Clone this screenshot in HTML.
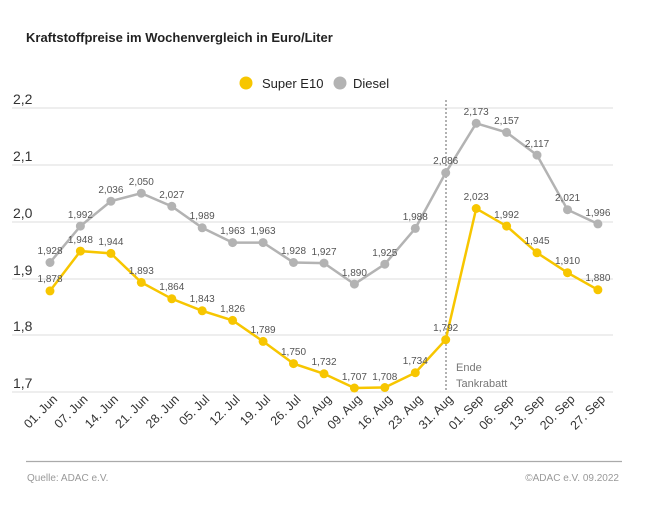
<!DOCTYPE html><html><head><meta charset="utf-8"><style>body{margin:0;background:#fff}svg{display:block;font-family:"Liberation Sans",sans-serif}</style></head><body>
<svg width="650" height="515" viewBox="0 0 650 515">
<text x="26" y="42" font-size="13" font-weight="bold" fill="#222">Kraftstoffpreise im Wochenvergleich in Euro/Liter</text>
<circle cx="246" cy="83" r="6.5" fill="#f7c600"/><text x="262" y="88" font-size="13" fill="#222">Super E10</text>
<circle cx="340" cy="83" r="6.5" fill="#b3b3b3"/><text x="353" y="88" font-size="13" fill="#222">Diesel</text>
<g stroke="#ddd" stroke-width="1">
<line x1="12" x2="613" y1="108" y2="108"/><line x1="12" x2="613" y1="165" y2="165"/><line x1="12" x2="613" y1="222" y2="222"/><line x1="12" x2="613" y1="279" y2="279"/><line x1="12" x2="613" y1="335" y2="335"/><line x1="12" x2="613" y1="392" y2="392"/></g>
<g font-size="14" fill="#333"><text x="13" y="104">2,2</text><text x="13" y="161">2,1</text><text x="13" y="218">2,0</text><text x="13" y="275">1,9</text><text x="13" y="331">1,8</text><text x="13" y="388">1,7</text></g>
<line x1="446" x2="446" y1="100" y2="392" stroke="#666" stroke-dasharray="2,2"/>
<text x="456" y="371" font-size="11" fill="#777">Ende</text><text x="456" y="387" font-size="11" fill="#777">Tankrabatt</text>
<polyline fill="none" stroke="#b3b3b3" stroke-width="2.5" points="50,262.5 80.4,226.1 110.9,201.2 141.3,193.2 171.8,206.3 202.2,227.8 232.6,242.6 263.1,242.6 293.5,262.5 324,263.1 354.4,284.1 384.8,264.2 415.3,228.4 445.7,172.8 476.2,123.3 506.6,132.4 537,155.1 567.5,209.7 597.9,223.9"/>
<polyline fill="none" stroke="#f7c600" stroke-width="2.5" points="50,290.9 80.4,251.1 110.9,253.4 141.3,282.4 171.8,298.8 202.2,310.8 232.6,320.4 263.1,341.4 293.5,363.6 324,373.8 354.4,388 384.8,387.5 415.3,372.7 445.7,339.7 476.2,208.5 506.6,226.1 537,252.8 567.5,272.7 597.9,289.8"/>
<g fill="#b3b3b3"><circle cx="50" cy="262.5" r="4.5"/><circle cx="80.4" cy="226.1" r="4.5"/><circle cx="110.9" cy="201.2" r="4.5"/><circle cx="141.3" cy="193.2" r="4.5"/><circle cx="171.8" cy="206.3" r="4.5"/><circle cx="202.2" cy="227.8" r="4.5"/><circle cx="232.6" cy="242.6" r="4.5"/><circle cx="263.1" cy="242.6" r="4.5"/><circle cx="293.5" cy="262.5" r="4.5"/><circle cx="324" cy="263.1" r="4.5"/><circle cx="354.4" cy="284.1" r="4.5"/><circle cx="384.8" cy="264.2" r="4.5"/><circle cx="415.3" cy="228.4" r="4.5"/><circle cx="445.7" cy="172.8" r="4.5"/><circle cx="476.2" cy="123.3" r="4.5"/><circle cx="506.6" cy="132.4" r="4.5"/><circle cx="537" cy="155.1" r="4.5"/><circle cx="567.5" cy="209.7" r="4.5"/><circle cx="597.9" cy="223.9" r="4.5"/></g>
<g fill="#f7c600"><circle cx="50" cy="290.9" r="4.5"/><circle cx="80.4" cy="251.1" r="4.5"/><circle cx="110.9" cy="253.4" r="4.5"/><circle cx="141.3" cy="282.4" r="4.5"/><circle cx="171.8" cy="298.8" r="4.5"/><circle cx="202.2" cy="310.8" r="4.5"/><circle cx="232.6" cy="320.4" r="4.5"/><circle cx="263.1" cy="341.4" r="4.5"/><circle cx="293.5" cy="363.6" r="4.5"/><circle cx="324" cy="373.8" r="4.5"/><circle cx="354.4" cy="388" r="4.5"/><circle cx="384.8" cy="387.5" r="4.5"/><circle cx="415.3" cy="372.7" r="4.5"/><circle cx="445.7" cy="339.7" r="4.5"/><circle cx="476.2" cy="208.5" r="4.5"/><circle cx="506.6" cy="226.1" r="4.5"/><circle cx="537" cy="252.8" r="4.5"/><circle cx="567.5" cy="272.7" r="4.5"/><circle cx="597.9" cy="289.8" r="4.5"/></g>
<g font-size="10" fill="#555" text-anchor="middle">
<text x="50" y="254">1,928</text><text x="80.4" y="218">1,992</text><text x="110.9" y="193">2,036</text><text x="141.3" y="185">2,050</text><text x="171.8" y="198">2,027</text><text x="202.2" y="219">1,989</text><text x="232.6" y="234">1,963</text><text x="263.1" y="234">1,963</text><text x="293.5" y="254">1,928</text><text x="324" y="255">1,927</text><text x="354.4" y="276">1,890</text><text x="384.8" y="256">1,925</text><text x="415.3" y="220">1,988</text><text x="445.7" y="164">2,086</text><text x="476.2" y="115">2,173</text><text x="506.6" y="124">2,157</text><text x="537" y="147">2,117</text><text x="567.5" y="201">2,021</text><text x="597.9" y="216">1,996</text>
<text x="50" y="282">1,878</text><text x="80.4" y="243">1,948</text><text x="110.9" y="245">1,944</text><text x="141.3" y="274">1,893</text><text x="171.8" y="290">1,864</text><text x="202.2" y="302">1,843</text><text x="232.6" y="312">1,826</text><text x="263.1" y="333">1,789</text><text x="293.5" y="355">1,750</text><text x="324" y="365">1,732</text><text x="354.4" y="380">1,707</text><text x="384.8" y="380">1,708</text><text x="415.3" y="364">1,734</text><text x="445.7" y="331">1,792</text><text x="476.2" y="200">2,023</text><text x="506.6" y="218">1,992</text><text x="537" y="244">1,945</text><text x="567.5" y="264">1,910</text><text x="597.9" y="281">1,880</text></g>
<g font-size="12.5" fill="#333" text-anchor="end">
<text transform="translate(58,400) rotate(-45)">01. Jun</text><text transform="translate(88.4,400) rotate(-45)">07. Jun</text><text transform="translate(118.9,400) rotate(-45)">14. Jun</text><text transform="translate(149.3,400) rotate(-45)">21. Jun</text><text transform="translate(179.8,400) rotate(-45)">28. Jun</text><text transform="translate(210.2,400) rotate(-45)">05. Jul</text><text transform="translate(240.6,400) rotate(-45)">12. Jul</text><text transform="translate(271.1,400) rotate(-45)">19. Jul</text><text transform="translate(301.5,400) rotate(-45)">26. Jul</text><text transform="translate(332,400) rotate(-45)">02. Aug</text><text transform="translate(362.4,400) rotate(-45)">09. Aug</text><text transform="translate(392.8,400) rotate(-45)">16. Aug</text><text transform="translate(423.3,400) rotate(-45)">23. Aug</text><text transform="translate(453.7,400) rotate(-45)">31. Aug</text><text transform="translate(484.2,400) rotate(-45)">01. Sep</text><text transform="translate(514.6,400) rotate(-45)">06. Sep</text><text transform="translate(545,400) rotate(-45)">13. Sep</text><text transform="translate(575.5,400) rotate(-45)">20. Sep</text><text transform="translate(605.9,400) rotate(-45)">27. Sep</text></g>
<line x1="26" x2="622" y1="461.5" y2="461.5" stroke="#aaa" stroke-width="1.2"/>
<text x="27" y="481" font-size="10" fill="#999">Quelle: ADAC e.V.</text>
<text x="619" y="481" font-size="10" fill="#999" text-anchor="end">©ADAC e.V.  09.2022</text>
</svg></body></html>
